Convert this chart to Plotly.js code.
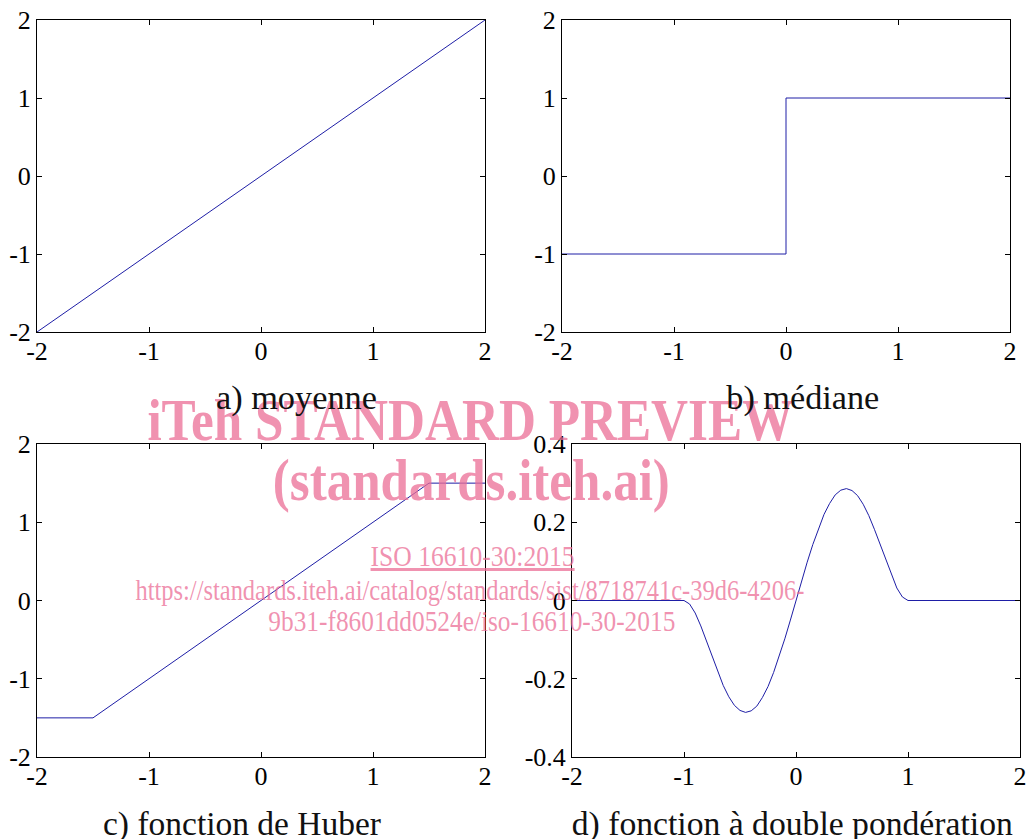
<!DOCTYPE html>
<html><head><meta charset="utf-8">
<script src="https://cdn.plot.ly/plotly-3.0.1.min.js"></script>
<style>html,body{margin:0;padding:0;background:#fff}#chart{width:1029px;height:839px}</style>
</head><body><div id="chart"></div>
<script>
// ---- data ----
const xMean = [-2, 2];
const yMean = [-2, 2];
const xMedian = [-2, 0, 0, 2];
const yMedian = [-1, -1, 1, 1];
const xHuber = [-2, -1.5, 1.5, 2];
const yHuber = [-1.5, -1.5, 1.5, 1.5];
const xBiweight = [-2, -1, -0.95, -0.9, -0.85, -0.8, -0.75, -0.7, -0.65, -0.6, -0.55, -0.5, -0.45, -0.4, -0.35, -0.3, -0.25, -0.2, -0.15, -0.1, -0.05, 0,
                   0.05, 0.1, 0.15, 0.2, 0.25, 0.3, 0.35, 0.4, 0.45, 0.5, 0.55, 0.6, 0.65, 0.7, 0.75, 0.8, 0.85, 0.9, 0.95, 1, 2];
const yBiweight = [0, 0, -0.009, -0.032, -0.065, -0.104, -0.144, -0.182, -0.217, -0.246, -0.268, -0.281, -0.286, -0.282, -0.270, -0.248, -0.220, -0.184, -0.143, -0.098, -0.050, 0,
                   0.050, 0.098, 0.143, 0.184, 0.220, 0.248, 0.270, 0.282, 0.286, 0.281, 0.268, 0.246, 0.217, 0.182, 0.144, 0.104, 0.065, 0.032, 0.009, 0, 0];
const tickVals2 = [-2, -1, 0, 1, 2];
const tickText2 = ['-2', '-1', '0', '1', '2'];
const tickVals04 = [-0.4, -0.2, 0, 0.2, 0.4];
const tickText04 = ['-0.4', '-0.2', '0', '0.2', '0.4'];
const subTitles = ['a) moyenne', 'b) médiane', 'c) fonction de Huber', 'd) fonction à double pondération'];
const watermarkLines = ['iTeh STANDARD PREVIEW', '(standards.iteh.ai)', 'ISO 16610-30:2015',
  'https://standards.iteh.ai/catalog/standards/sist/8718741c-39d6-4206-', '9b31-f8601dd0524e/iso-16610-30-2015'];

// ---- layout helpers ----
const W = 1029, H = 839;
const px = v => v / W;
const py = v => 1 - v / H;
const lineColor = '#1e1ea6';
const serif = 'Liberation Serif';

function trace(x, y, n) {
  return {x, y, type: 'scatter', mode: 'lines', line: {color: lineColor, width: 1},
          xaxis: 'x' + (n === 1 ? '' : n), yaxis: 'y' + (n === 1 ? '' : n), hoverinfo: 'none'};
}
function axis(domain, range, vals, text, anchor, isX) {
  return {domain, range, tickmode: 'array', tickvals: vals, ticktext: text,
          ticks: 'inside', ticklen: 5, tickwidth: 1, tickcolor: '#000',
          showline: true, linecolor: '#000', linewidth: 1, mirror: 'ticks',
          showgrid: false, zeroline: false, anchor, fixedrange: true,
          ticklabelstandoff: isX ? -4 : 0,
          tickfont: {family: serif, size: 26, color: '#000'}};
}

const data = [
  trace(xMean, yMean, 1),
  trace(xMedian, yMedian, 2),
  trace(xHuber, yHuber, 3),
  trace(xBiweight, yBiweight, 4)
];

const dxA = [px(37), px(485)], dxB = [px(562), px(1010)], dxD = [px(572), px(1020)];
const dyTop = [py(332), py(20)], dyBot = [py(757), py(444)];

const wmColor = 'rgba(235,110,150,0.75)';
const wmPos = [[470, 420, 60, 'bold', 646], [471, 480, 60, 'bold', 397], [472, 555, 30, 'normal', 204],
               [470, 589, 30, 'normal', 669], [472, 620, 30, 'normal', 407]];
const subPos = [[296, 398, 161], [803, 398, 153], [242, 824, 278], [792, 824, 441]];

const annotations = [];
const fitWidths = [];
watermarkLines.forEach((t, i) => {
  const p = wmPos[i];
  annotations.push({text: t, xref: 'paper', yref: 'paper', x: px(p[0]), y: py(p[1]),
    xanchor: 'center', yanchor: 'middle', showarrow: false,
    font: {family: serif, size: p[2], color: wmColor, weight: p[3], lineposition: i === 2 ? 'under' : 'none'}});
  fitWidths.push(p[4]);
});
subTitles.forEach((t, i) => {
  const p = subPos[i];
  annotations.push({text: t, xref: 'paper', yref: 'paper', x: px(p[0]), y: py(p[1]),
    xanchor: 'center', yanchor: 'middle', showarrow: false,
    font: {family: serif, size: 33, color: '#111'}});
  fitWidths.push(p[2]);
});

const layout = {
  width: W, height: H, margin: {l: 0, r: 0, t: 0, b: 0},
  paper_bgcolor: '#fff', plot_bgcolor: '#fff', showlegend: false,
  xaxis: axis(dxA, [-2, 2], tickVals2, tickText2, 'y', true),
  yaxis: axis(dyTop, [-2, 2], tickVals2, tickText2, 'x', false),
  xaxis2: axis(dxB, [-2, 2], tickVals2, tickText2, 'y2', true),
  yaxis2: axis(dyTop, [-2, 2], tickVals2, tickText2, 'x2', false),
  xaxis3: axis(dxA, [-2, 2], tickVals2, tickText2, 'y3', true),
  yaxis3: axis(dyBot, [-2, 2], tickVals2, tickText2, 'x3', false),
  xaxis4: axis(dxD, [-2, 2], tickVals2, tickText2, 'y4', true),
  yaxis4: axis(dyBot, [-0.4, 0.4], tickVals04, tickText04, 'x4', false),
  annotations
};

Plotly.newPlot('chart', data, layout, {staticPlot: true, displayModeBar: false}).then(gd => {
  gd.querySelectorAll('.annotation-text').forEach((t, i) => {
    if (fitWidths[i]) {
      t.setAttribute('textLength', fitWidths[i]);
      t.setAttribute('lengthAdjust', 'spacingAndGlyphs');
    }
  });
});
</script>
</body></html>
